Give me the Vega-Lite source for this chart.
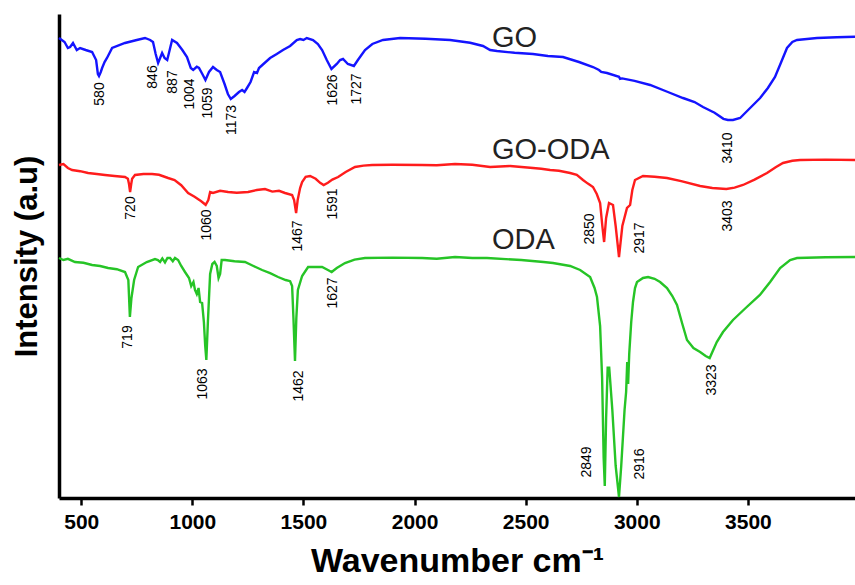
{
  "$schema": "https://vega.github.io/schema/vega-lite/v6.json",
  "width": 796,
  "height": 484,
  "autosize": {"type": "none"},
  "padding": {"left": 59, "top": 14, "right": 0, "bottom": 87},
  "background": "white",
  "config": {"view": {"stroke": null}, "font": "Liberation Sans"},
  "datasets": {
    "spectra": [
      {"s":"GO","x":400,"y":115},{"s":"GO","x":425,"y":114},{"s":"GO","x":440,"y":112.5},{"s":"GO","x":450,"y":112.75},{"s":"GO","x":463,"y":113.75},{"s":"GO","x":480,"y":112},{"s":"GO","x":495,"y":112.5},{"s":"GO","x":520,"y":112},{"s":"GO","x":549,"y":111.5},{"s":"GO","x":567,"y":109.5},{"s":"GO","x":575,"y":106},{"s":"GO","x":580,"y":105.5},{"s":"GO","x":588,"y":106.5},{"s":"GO","x":594,"y":107.5},{"s":"GO","x":605,"y":109},{"s":"GO","x":616,"y":110},{"s":"GO","x":639,"y":112.5},{"s":"GO","x":697,"y":113.75},{"s":"GO","x":750,"y":114.5},{"s":"GO","x":787,"y":115},{"s":"GO","x":810,"y":114.5},{"s":"GO","x":823,"y":114},{"s":"GO","x":835,"y":111},{"s":"GO","x":846,"y":108.75},{"s":"GO","x":855,"y":110},{"s":"GO","x":864,"y":111.25},{"s":"GO","x":875,"y":110},{"s":"GO","x":887,"y":109.5},{"s":"GO","x":898,"y":112},{"s":"GO","x":909,"y":114.5},{"s":"GO","x":931,"y":113.75},{"s":"GO","x":955,"y":112},{"s":"GO","x":976,"y":110.25},{"s":"GO","x":993,"y":107.5},{"s":"GO","x":1004,"y":107},{"s":"GO","x":1020,"y":107.8},{"s":"GO","x":1030,"y":107.5},{"s":"GO","x":1045,"y":106},{"s":"GO","x":1059,"y":104.5},{"s":"GO","x":1075,"y":106.5},{"s":"GO","x":1093,"y":107.75},{"s":"GO","x":1110,"y":107},{"s":"GO","x":1125,"y":106.5},{"s":"GO","x":1145,"y":103.5},{"s":"GO","x":1160,"y":101},{"s":"GO","x":1173,"y":99.75},{"s":"GO","x":1190,"y":100.5},{"s":"GO","x":1210,"y":101.5},{"s":"GO","x":1224,"y":102},{"s":"GO","x":1235,"y":101.5},{"s":"GO","x":1246,"y":102.5},{"s":"GO","x":1262,"y":104},{"s":"GO","x":1278,"y":106.5},{"s":"GO","x":1291,"y":106.25},{"s":"GO","x":1300,"y":107.5},{"s":"GO","x":1320,"y":108.5},{"s":"GO","x":1350,"y":110},{"s":"GO","x":1380,"y":111},{"s":"GO","x":1408,"y":112},{"s":"GO","x":1440,"y":113},{"s":"GO","x":1470,"y":114.5},{"s":"GO","x":1485,"y":114.75},{"s":"GO","x":1500,"y":114.5},{"s":"GO","x":1515,"y":115},{"s":"GO","x":1543,"y":114.5},{"s":"GO","x":1565,"y":113.5},{"s":"GO","x":1584,"y":112},{"s":"GO","x":1605,"y":109.5},{"s":"GO","x":1626,"y":107.25},{"s":"GO","x":1650,"y":108.5},{"s":"GO","x":1665,"y":109.5},{"s":"GO","x":1678,"y":109.75},{"s":"GO","x":1700,"y":108.5},{"s":"GO","x":1727,"y":108},{"s":"GO","x":1745,"y":109.5},{"s":"GO","x":1777,"y":112},{"s":"GO","x":1810,"y":113.5},{"s":"GO","x":1858,"y":114.5},{"s":"GO","x":1935,"y":115},{"s":"GO","x":2050,"y":114.8},{"s":"GO","x":2160,"y":114.5},{"s":"GO","x":2250,"y":113.8},{"s":"GO","x":2308,"y":113},{"s":"GO","x":2340,"y":112},{"s":"GO","x":2371,"y":111.75},{"s":"GO","x":2450,"y":111.3},{"s":"GO","x":2533,"y":111},{"s":"GO","x":2600,"y":110.5},{"s":"GO","x":2668,"y":110.25},{"s":"GO","x":2740,"y":109},{"s":"GO","x":2803,"y":107.75},{"s":"GO","x":2830,"y":107},{"s":"GO","x":2840,"y":106.5},{"s":"GO","x":2866,"y":106.25},{"s":"GO","x":2920,"y":105.3},{"s":"GO","x":2925,"y":104.8},{"s":"GO","x":2934,"y":104.9},{"s":"GO","x":2990,"y":104.3},{"s":"GO","x":3060,"y":103.25},{"s":"GO","x":3140,"y":101.5},{"s":"GO","x":3208,"y":100},{"s":"GO","x":3260,"y":99},{"s":"GO","x":3298,"y":97.75},{"s":"GO","x":3350,"y":96.3},{"s":"GO","x":3390,"y":94.8},{"s":"GO","x":3410,"y":94.5},{"s":"GO","x":3433,"y":94.5},{"s":"GO","x":3465,"y":95},{"s":"GO","x":3510,"y":97.5},{"s":"GO","x":3555,"y":100},{"s":"GO","x":3590,"y":102.5},{"s":"GO","x":3622,"y":105.25},{"s":"GO","x":3650,"y":109},{"s":"GO","x":3676,"y":112.5},{"s":"GO","x":3700,"y":114},{"s":"GO","x":3721,"y":114.5},{"s":"GO","x":3811,"y":115},{"s":"GO","x":3900,"y":115.2},{"s":"GO","x":3982,"y":115.3},

      {"s":"GO-ODA","x":400,"y":83.25},{"s":"GO-ODA","x":420,"y":83.5},{"s":"GO-ODA","x":440,"y":82.5},{"s":"GO-ODA","x":459,"y":82},{"s":"GO-ODA","x":495,"y":81.7},{"s":"GO-ODA","x":531,"y":81.25},{"s":"GO-ODA","x":570,"y":81},{"s":"GO-ODA","x":607,"y":80.75},{"s":"GO-ODA","x":650,"y":80.5},{"s":"GO-ODA","x":697,"y":80.25},{"s":"GO-ODA","x":710,"y":79.8},{"s":"GO-ODA","x":715,"y":78.5},{"s":"GO-ODA","x":720,"y":76.5},{"s":"GO-ODA","x":725,"y":78.5},{"s":"GO-ODA","x":729,"y":79.8},{"s":"GO-ODA","x":742,"y":80.75},{"s":"GO-ODA","x":780,"y":81},{"s":"GO-ODA","x":819,"y":81},{"s":"GO-ODA","x":850,"y":80.8},{"s":"GO-ODA","x":891,"y":80},{"s":"GO-ODA","x":920,"y":79.5},{"s":"GO-ODA","x":950,"y":78.2},{"s":"GO-ODA","x":981,"y":76.25},{"s":"GO-ODA","x":1010,"y":75.3},{"s":"GO-ODA","x":1040,"y":74.2},{"s":"GO-ODA","x":1060,"y":73.3},{"s":"GO-ODA","x":1072,"y":74.5},{"s":"GO-ODA","x":1080,"y":76.5},{"s":"GO-ODA","x":1093,"y":76.25},{"s":"GO-ODA","x":1125,"y":76.8},{"s":"GO-ODA","x":1161,"y":76.5},{"s":"GO-ODA","x":1200,"y":76.3},{"s":"GO-ODA","x":1251,"y":76.5},{"s":"GO-ODA","x":1290,"y":77},{"s":"GO-ODA","x":1327,"y":77.25},{"s":"GO-ODA","x":1360,"y":76.6},{"s":"GO-ODA","x":1390,"y":76.8},{"s":"GO-ODA","x":1417,"y":76.25},{"s":"GO-ODA","x":1449,"y":75.75},{"s":"GO-ODA","x":1458,"y":74.5},{"s":"GO-ODA","x":1467,"y":71.25},{"s":"GO-ODA","x":1474,"y":74.5},{"s":"GO-ODA","x":1485,"y":77.5},{"s":"GO-ODA","x":1494,"y":79},{"s":"GO-ODA","x":1510,"y":80.3},{"s":"GO-ODA","x":1530,"y":80.5},{"s":"GO-ODA","x":1555,"y":79.8},{"s":"GO-ODA","x":1575,"y":78.8},{"s":"GO-ODA","x":1591,"y":78.25},{"s":"GO-ODA","x":1610,"y":78.8},{"s":"GO-ODA","x":1630,"y":79.6},{"s":"GO-ODA","x":1656,"y":80.25},{"s":"GO-ODA","x":1690,"y":81.5},{"s":"GO-ODA","x":1732,"y":82.75},{"s":"GO-ODA","x":1770,"y":83.1},{"s":"GO-ODA","x":1809,"y":83.25},{"s":"GO-ODA","x":1900,"y":83.3},{"s":"GO-ODA","x":2034,"y":83.25},{"s":"GO-ODA","x":2100,"y":83.2},{"s":"GO-ODA","x":2182,"y":83.5},{"s":"GO-ODA","x":2260,"y":83.3},{"s":"GO-ODA","x":2340,"y":82.75},{"s":"GO-ODA","x":2430,"y":83},{"s":"GO-ODA","x":2533,"y":82.5},{"s":"GO-ODA","x":2570,"y":82.3},{"s":"GO-ODA","x":2610,"y":82},{"s":"GO-ODA","x":2650,"y":81.8},{"s":"GO-ODA","x":2700,"y":81.25},{"s":"GO-ODA","x":2730,"y":80.8},{"s":"GO-ODA","x":2758,"y":79.5},{"s":"GO-ODA","x":2780,"y":78.6},{"s":"GO-ODA","x":2803,"y":77.75},{"s":"GO-ODA","x":2820,"y":76},{"s":"GO-ODA","x":2835,"y":73.75},{"s":"GO-ODA","x":2845,"y":68},{"s":"GO-ODA","x":2853,"y":64},{"s":"GO-ODA","x":2862,"y":70},{"s":"GO-ODA","x":2875,"y":73.75},{"s":"GO-ODA","x":2893,"y":73.25},{"s":"GO-ODA","x":2905,"y":68},{"s":"GO-ODA","x":2920,"y":60.25},{"s":"GO-ODA","x":2935,"y":68},{"s":"GO-ODA","x":2956,"y":72.5},{"s":"GO-ODA","x":2970,"y":73.25},{"s":"GO-ODA","x":2980,"y":77},{"s":"GO-ODA","x":2992,"y":79.5},{"s":"GO-ODA","x":3028,"y":80.5},{"s":"GO-ODA","x":3080,"y":80.3},{"s":"GO-ODA","x":3136,"y":80},{"s":"GO-ODA","x":3200,"y":79.2},{"s":"GO-ODA","x":3285,"y":78},{"s":"GO-ODA","x":3340,"y":77.5},{"s":"GO-ODA","x":3403,"y":77.25},{"s":"GO-ODA","x":3440,"y":77.6},{"s":"GO-ODA","x":3478,"y":78.25},{"s":"GO-ODA","x":3530,"y":79.6},{"s":"GO-ODA","x":3586,"y":81.25},{"s":"GO-ODA","x":3625,"y":82.7},{"s":"GO-ODA","x":3658,"y":83.75},{"s":"GO-ODA","x":3700,"y":84.3},{"s":"GO-ODA","x":3735,"y":84.5},{"s":"GO-ODA","x":3850,"y":84.6},{"s":"GO-ODA","x":3982,"y":84.5},

      {"s":"ODA","x":400,"y":60},{"s":"ODA","x":420,"y":59.5},{"s":"ODA","x":440,"y":59.8},{"s":"ODA","x":472,"y":59},{"s":"ODA","x":510,"y":58.8},{"s":"ODA","x":549,"y":58.25},{"s":"ODA","x":585,"y":58},{"s":"ODA","x":621,"y":57.5},{"s":"ODA","x":660,"y":57.2},{"s":"ODA","x":697,"y":56.5},{"s":"ODA","x":712,"y":54.5},{"s":"ODA","x":719,"y":45.25},{"s":"ODA","x":726,"y":50},{"s":"ODA","x":738,"y":54.5},{"s":"ODA","x":756,"y":57.75},{"s":"ODA","x":795,"y":59},{"s":"ODA","x":832,"y":59.75},{"s":"ODA","x":845,"y":59.5},{"s":"ODA","x":855,"y":59},{"s":"ODA","x":865,"y":59.9},{"s":"ODA","x":877,"y":58.9},{"s":"ODA","x":888,"y":60},{"s":"ODA","x":900,"y":60},{"s":"ODA","x":912,"y":59.2},{"s":"ODA","x":922,"y":60},{"s":"ODA","x":936,"y":59.5},{"s":"ODA","x":950,"y":58},{"s":"ODA","x":967,"y":56.5},{"s":"ODA","x":985,"y":55},{"s":"ODA","x":995,"y":53},{"s":"ODA","x":1005,"y":54},{"s":"ODA","x":1012,"y":52},{"s":"ODA","x":1020,"y":51},{"s":"ODA","x":1028,"y":52.5},{"s":"ODA","x":1035,"y":49},{"s":"ODA","x":1044,"y":48.75},{"s":"ODA","x":1052,"y":44},{"s":"ODA","x":1058,"y":38},{"s":"ODA","x":1063,"y":34.5},{"s":"ODA","x":1070,"y":44},{"s":"ODA","x":1080,"y":56},{"s":"ODA","x":1090,"y":58.5},{"s":"ODA","x":1100,"y":59},{"s":"ODA","x":1110,"y":58},{"s":"ODA","x":1118,"y":55},{"s":"ODA","x":1125,"y":56},{"s":"ODA","x":1132,"y":59.5},{"s":"ODA","x":1147,"y":59.5},{"s":"ODA","x":1190,"y":59.2},{"s":"ODA","x":1237,"y":59},{"s":"ODA","x":1275,"y":58},{"s":"ODA","x":1314,"y":57},{"s":"ODA","x":1350,"y":56.2},{"s":"ODA","x":1386,"y":55.25},{"s":"ODA","x":1420,"y":54.5},{"s":"ODA","x":1440,"y":54.2},{"s":"ODA","x":1449,"y":53},{"s":"ODA","x":1455,"y":45},{"s":"ODA","x":1462,"y":34.25},{"s":"ODA","x":1468,"y":45},{"s":"ODA","x":1475,"y":52},{"s":"ODA","x":1494,"y":55.5},{"s":"ODA","x":1521,"y":57.75},{"s":"ODA","x":1584,"y":57.75},{"s":"ODA","x":1610,"y":57},{"s":"ODA","x":1627,"y":56.5},{"s":"ODA","x":1650,"y":57.5},{"s":"ODA","x":1687,"y":58.75},{"s":"ODA","x":1730,"y":59.6},{"s":"ODA","x":1777,"y":60},{"s":"ODA","x":1900,"y":60.1},{"s":"ODA","x":2034,"y":60},{"s":"ODA","x":2100,"y":59.8},{"s":"ODA","x":2182,"y":60.25},{"s":"ODA","x":2260,"y":60},{"s":"ODA","x":2326,"y":60},{"s":"ODA","x":2480,"y":59.5},{"s":"ODA","x":2580,"y":59},{"s":"ODA","x":2623,"y":58.75},{"s":"ODA","x":2700,"y":58},{"s":"ODA","x":2745,"y":57},{"s":"ODA","x":2790,"y":55.25},{"s":"ODA","x":2810,"y":52.5},{"s":"ODA","x":2821,"y":50.25},{"s":"ODA","x":2835,"y":43},{"s":"ODA","x":2844,"y":30},{"s":"ODA","x":2851,"y":10},{"s":"ODA","x":2856,"y":3},{"s":"ODA","x":2862,"y":20},{"s":"ODA","x":2869,"y":32.6},{"s":"ODA","x":2876,"y":32.6},{"s":"ODA","x":2890,"y":22},{"s":"ODA","x":2905,"y":8},{"s":"ODA","x":2920,"y":0.25},{"s":"ODA","x":2930,"y":8},{"s":"ODA","x":2945,"y":22},{"s":"ODA","x":2952,"y":26.5},{"s":"ODA","x":2957,"y":34},{"s":"ODA","x":2961,"y":28.5},{"s":"ODA","x":2966,"y":36},{"s":"ODA","x":2975,"y":44},{"s":"ODA","x":2983,"y":49},{"s":"ODA","x":2992,"y":52.5},{"s":"ODA","x":3001,"y":54},{"s":"ODA","x":3028,"y":55},{"s":"ODA","x":3051,"y":55.25},{"s":"ODA","x":3080,"y":54.8},{"s":"ODA","x":3105,"y":54},{"s":"ODA","x":3136,"y":52.5},{"s":"ODA","x":3160,"y":50.5},{"s":"ODA","x":3181,"y":48.25},{"s":"ODA","x":3205,"y":43.5},{"s":"ODA","x":3226,"y":39.5},{"s":"ODA","x":3255,"y":37.5},{"s":"ODA","x":3285,"y":36.5},{"s":"ODA","x":3310,"y":35.5},{"s":"ODA","x":3328,"y":35},{"s":"ODA","x":3360,"y":39},{"s":"ODA","x":3388,"y":41.5},{"s":"ODA","x":3433,"y":44.5},{"s":"ODA","x":3490,"y":47.5},{"s":"ODA","x":3554,"y":50.75},{"s":"ODA","x":3600,"y":54},{"s":"ODA","x":3645,"y":57.5},{"s":"ODA","x":3690,"y":59.5},{"s":"ODA","x":3721,"y":60},{"s":"ODA","x":3850,"y":60.2},{"s":"ODA","x":3982,"y":60.25}
    ],
    "peaks": [
      {"label":"580","lx":584,"ly":101},{"label":"846","lx":823,"ly":105.25},{"label":"887","lx":913,"ly":104},{"label":"1004","lx":989,"ly":101},{"label":"1059","lx":1070,"ly":98.75},{"label":"1173","lx":1178,"ly":94.5},{"label":"1626","lx":1633,"ly":102},{"label":"1727","lx":1741,"ly":102.25},{"label":"3410","lx":3410,"ly":87.5},
      {"label":"720","lx":724,"ly":72.5},{"label":"1060","lx":1066,"ly":68.25},{"label":"1467","lx":1475,"ly":65.5},{"label":"1591","lx":1633,"ly":73.5},{"label":"2850","lx":2789,"ly":67.25},{"label":"2917","lx":3014,"ly":65},{"label":"3403","lx":3410,"ly":70.5},
      {"label":"719","lx":710,"ly":40.25},{"label":"1063","lx":1048,"ly":28.5},{"label":"1462","lx":1480,"ly":28},{"label":"1627","lx":1633,"ly":51.25},{"label":"2849","lx":2776,"ly":9},{"label":"2916","lx":3014,"ly":8.5},{"label":"3323","lx":3338,"ly":29.5}
    ],
    "names": [
      {"name":"GO","nx":2348,"ny":115},{"name":"GO-ODA","nx":2348,"ny":87},{"name":"ODA","nx":2348,"ny":64.5}
    ]
  },
  "layer": [
    {
      "data": {"name": "spectra"},
      "mark": {"type": "line", "strokeWidth": 2.4, "interpolate": "linear"},
      "encoding": {
        "x": {
          "field": "x", "type": "quantitative",
          "scale": {"domain": [400, 3982], "nice": false, "zero": false},
          "axis": {
            "values": [500, 1000, 1500, 2000, 2500, 3000, 3500],
            "format": "d",
            "title": "Wavenumber cm⁻¹",
            "titleFontSize": 34, "titleFontWeight": "bold", "titleColor": "black", "titlePadding": 12,
            "labelFontSize": 21, "labelFontWeight": "bold", "labelColor": "black", "labelPadding": 6, "labelFlush": false,
            "tickSize": 7, "tickWidth": 2.5, "tickColor": "black",
            "domainColor": "black", "domainWidth": 3.5, "grid": false
          }
        },
        "y": {
          "field": "y", "type": "quantitative",
          "scale": {"domain": [0, 121], "nice": false, "zero": false},
          "axis": {
            "title": "Intensity (a.u)", "titleFontSize": 31, "titleFontWeight": "bold", "titleColor": "black", "titlePadding": 16,
            "labels": false, "ticks": false, "grid": false,
            "domainColor": "black", "domainWidth": 3.5
          }
        },
        "color": {
          "field": "s", "type": "nominal",
          "scale": {"domain": ["GO", "GO-ODA", "ODA"], "range": ["#1414ff", "#ff1c1c", "#26c426"]},
          "legend": null
        }
      }
    },
    {
      "mark": {"type": "rule", "strokeWidth": 3.5, "color": "black"},
      "encoding": {"y": {"datum": 121}}
    },
    {
      "data": {"name": "peaks"},
      "mark": {"type": "text", "angle": 270, "fontSize": 14, "align": "center", "baseline": "middle", "color": "black"},
      "encoding": {
        "x": {"field": "lx", "type": "quantitative"},
        "y": {"field": "ly", "type": "quantitative"},
        "text": {"field": "label"}
      }
    },
    {
      "data": {"name": "names"},
      "mark": {"type": "text", "fontSize": 29, "align": "left", "baseline": "middle", "color": "#222"},
      "encoding": {
        "x": {"field": "nx", "type": "quantitative"},
        "y": {"field": "ny", "type": "quantitative"},
        "text": {"field": "name"}
      }
    }
  ]
}
